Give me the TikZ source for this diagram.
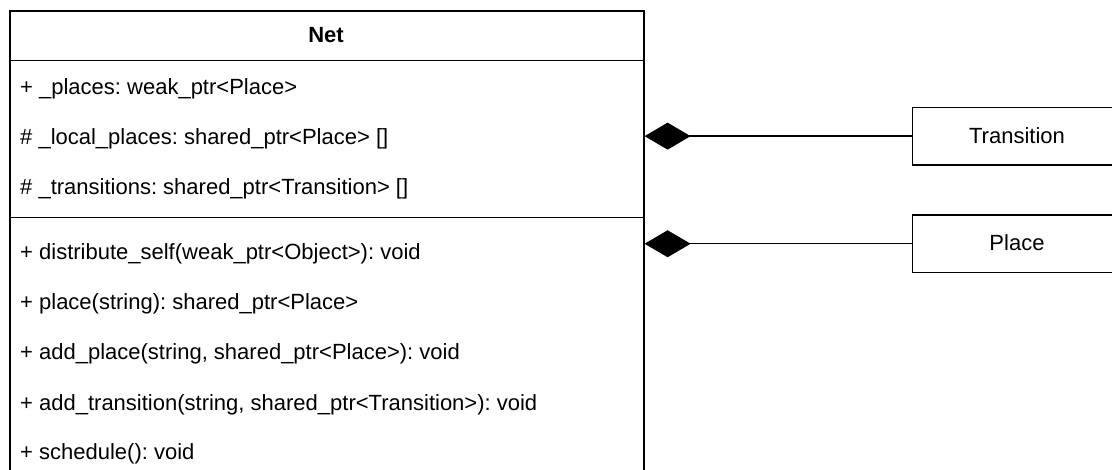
\documentclass[tikz,border=0pt]{standalone}
\usepackage{fontspec}
\setmainfont{Liberation Sans}
\usetikzlibrary{arrows.meta}
\frenchspacing

\tikzset{
  classbox/.style={draw=black, line width=1.6pt, fill=white, inner sep=0pt, anchor=north west},
  member/.style={anchor=base west, inner sep=0pt, font=\fontsize{22}{26}\selectfont},
  title/.style={inner sep=0pt, font=\fontsize{22}{26}\selectfont},
  composition/.style={line width=1.4pt, -{Diamond[width=27pt,length=46pt,fill=black]}},
}

\begin{document}
\begin{tikzpicture}[x=1pt, y=-1pt]
  \useasboundingbox (0,0) rectangle (1112,470);
  \clip (0,0) rectangle (1112,470);

  % class Net
  \node[classbox, minimum width=634pt, minimum height=480pt] (net) at (9,10) {};
  \node[title, font=\fontsize{22}{26}\selectfont\bfseries] (nettitle) at (326,35.5) {Net};
  \draw[line width=1.6pt] ([yshift=-50.5pt]net.north west) -- ([yshift=-50.5pt]net.north east);
  \draw[line width=1.6pt] ([yshift=-207.7pt]net.north west) -- ([yshift=-207.7pt]net.north east);

  % attributes
  \node[member] (a1) at (20,95)  {+ \_places: weak\_ptr<Place>};
  \node[member] (a2) at (20,145) {\# \_local\_places: shared\_ptr<Place> []};
  \node[member] (a3) at (20,195) {\# \_transitions: shared\_ptr<Transition> []};

  % operations
  \node[member] (m1) at (20,260) {+ distribute\_self(weak\_ptr<Object>): void};
  \node[member] (m2) at (20,310) {+ place(string): shared\_ptr<Place>};
  \node[member] (m3) at (20,360) {+ add\_place(string, shared\_ptr<Place>): void};
  \node[member] (m4) at (20,410) {+ add\_transition(string, shared\_ptr<Transition>): void};
  \node[member] (m5) at (20,460) {+ schedule(): void};

  % classes on the right
  \node[classbox, minimum width=211pt, minimum height=57.3pt] (trans) at (911.7,106.7) {};
  \node[title] (translabel) at (1017,135.3) {Transition};
  \node[classbox, minimum width=211pt, minimum height=57.3pt] (place) at (911.7,214.3) {};
  \node[title] (placelabel) at (1017,243) {Place};

  % composition connectors
  \draw[composition] (trans.west) -- (net.east |- trans.west);
  \draw[composition] (place.west) -- (net.east |- place.west);
\end{tikzpicture}
\end{document}
